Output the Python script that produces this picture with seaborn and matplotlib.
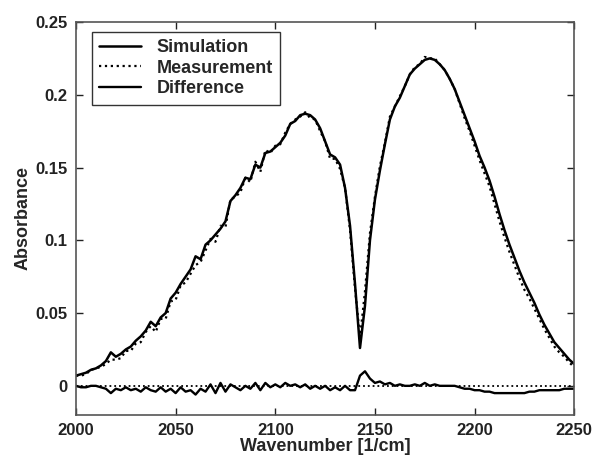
import numpy as np
import pandas as pd
import seaborn as sns
import matplotlib
matplotlib.use("Agg")
import matplotlib.pyplot as plt

# wavenumber grid 2000..2250 in 2.5 steps
wavenumber = np.arange(2000, 2250.1, 2.5)

simulation = [
    0.007, 0.008, 0.009, 0.011, 0.012, 0.014, 0.017, 0.023, 0.020, 0.022,
    0.025, 0.027, 0.031, 0.034, 0.038, 0.044, 0.041, 0.047, 0.050, 0.060,
    0.064, 0.070, 0.075, 0.080, 0.089, 0.087, 0.097, 0.100, 0.104, 0.108,
    0.113, 0.127, 0.131, 0.136, 0.143, 0.142, 0.152, 0.150, 0.160, 0.161,
    0.164, 0.167, 0.172, 0.180, 0.182, 0.186, 0.187, 0.186, 0.183, 0.177,
    0.168, 0.159, 0.157, 0.152, 0.136, 0.110, 0.070, 0.026, 0.055, 0.100,
    0.128, 0.148, 0.166, 0.183, 0.192, 0.198, 0.206, 0.214, 0.218, 0.221,
    0.224, 0.225, 0.224, 0.221, 0.217, 0.211, 0.204, 0.195, 0.186, 0.177,
    0.168, 0.158, 0.150, 0.141, 0.130, 0.118, 0.107, 0.097, 0.088, 0.079,
    0.071, 0.064, 0.057, 0.049, 0.042, 0.036, 0.030, 0.026, 0.022, 0.018,
    0.015,
]

difference = [
    0.000, -0.001, -0.001, 0.000, 0.000, -0.001, -0.002, -0.005, -0.002, -0.003,
    -0.001, -0.003, -0.002, -0.004, -0.001, -0.003, -0.004, -0.001, -0.004, -0.002,
    -0.005, -0.001, -0.004, -0.003, -0.006, -0.002, -0.004, 0.001, -0.005, 0.002,
    -0.004, 0.001, -0.001, -0.003, 0.000, -0.002, 0.002, -0.003, 0.002, -0.001,
    0.001, -0.001, 0.002, 0.000, 0.001, -0.001, 0.001, -0.002, 0.000, -0.002,
    0.000, -0.003, -0.001, -0.003, 0.000, -0.003, -0.003, 0.007, 0.010, 0.005,
    0.002, 0.003, 0.001, 0.002, 0.000, 0.001, 0.000, 0.000, 0.001, 0.000,
    0.002, 0.000, 0.001, 0.000, 0.000, 0.000, 0.000, -0.001, -0.002, -0.002,
    -0.003, -0.003, -0.004, -0.004, -0.005, -0.005, -0.005, -0.005, -0.005, -0.005,
    -0.005, -0.004, -0.004, -0.003, -0.003, -0.003, -0.003, -0.003, -0.002, -0.002,
    -0.002,
]

df = pd.DataFrame({"Wavenumber": wavenumber,
                   "Simulation": simulation,
                   "Difference": difference})
df["Measurement"] = df["Simulation"] + df["Difference"]

sns.set_style("ticks")
plt.rcParams['font.family'] = ['Liberation Sans', 'DejaVu Sans']
plt.rcParams['font.weight'] = 'bold'

fig = plt.figure(figsize=(5.96, 4.59), dpi=100)
ax = fig.add_axes([0.1275, 0.096, 0.836, 0.856])

sns.lineplot(data=df, x="Wavenumber", y="Simulation", color="black", lw=1.8, label="Simulation", ax=ax)
sns.lineplot(data=df, x="Wavenumber", y="Measurement", color="black", lw=1.6, ls=":", label="Measurement", ax=ax)
sns.lineplot(data=df, x="Wavenumber", y="Difference", color="black", lw=1.7, label="Difference", ax=ax)
ax.axhline(0, color="black", lw=1.3, ls=":", zorder=1)

ax.set_xlim(2000, 2250)
ax.set_ylim(-0.02, 0.25)
ax.set_xticks([2000, 2050, 2100, 2150, 2200, 2250])
ax.set_xticklabels(["2000", "2050", "2100", "2150", "2200", "2250"])
ax.set_yticks([0, 0.05, 0.1, 0.15, 0.2, 0.25])
ax.set_yticklabels(["0", "0.05", "0.1", "0.15", "0.2", "0.25"])
ax.tick_params(direction="in", top=True, right=True, length=5, width=1,
               labelsize=12, pad=6, colors="#222222")
for s in ax.spines.values():
    s.set_color("#555555")
    s.set_linewidth(1.2)

ax.set_xlabel("Wavenumber [1/cm]", fontsize=13, fontweight="bold", labelpad=0)
ax.set_ylabel("Absorbance", fontsize=13, fontweight="bold", labelpad=3)

leg = ax.legend(loc="upper left", bbox_to_anchor=(0.032, 0.975),
                borderaxespad=0, prop={"size": 13, "weight": "bold"},
                fancybox=False, framealpha=1, edgecolor="#333333",
                handlelength=2.3, borderpad=0.4, labelspacing=0.2,
                handletextpad=0.9)
leg.get_frame().set_linewidth(1.0)

fig.savefig("out.png", dpi=100)
